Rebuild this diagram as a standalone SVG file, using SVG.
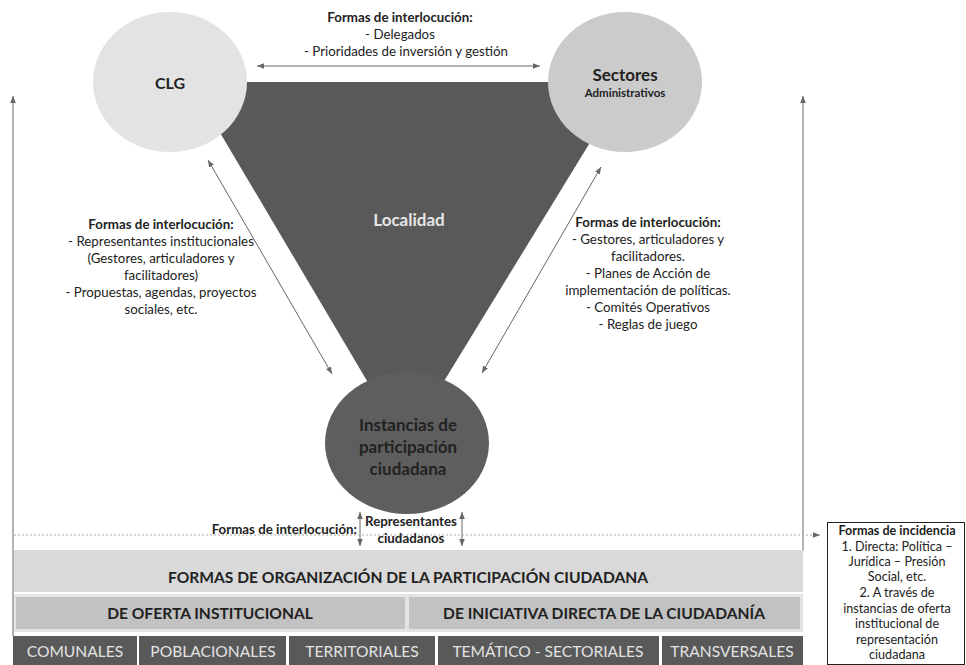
<svg xmlns="http://www.w3.org/2000/svg" width="966" height="665" viewBox="0 0 966 665">
<style>
text{font-family:Lato,"Open Sans","Liberation Sans",sans-serif;fill:#222;text-anchor:middle}
.b{font-weight:bold}
.s{font-size:13.3px}
.ln{stroke:#666;stroke-width:1;fill:none}
.cap{font-size:15.6px}
.dk{fill:#e2e2e2}
.r{font-size:12.6px}
</style>
<defs>
<marker id="ah" markerWidth="8" markerHeight="8" refX="7" refY="4" orient="auto-start-reverse" markerUnits="userSpaceOnUse">
<path d="M0,1.2 L7,4 L0,6.8 z" fill="#666"/>
</marker>
</defs>
<rect width="966" height="665" fill="#fff"/>
<g id="localidad">
<polygon points="190,82 627,82 405,445" fill="#595959"/>
<text x="409" y="226" class="b" style="font-size:17px;fill:#e6e6e6">Localidad</text>
</g>
<g id="clg">
<ellipse cx="170" cy="82" rx="77" ry="70" fill="#e3e3e3"/>
<text x="170" y="89" class="b" style="font-size:16px">CLG</text>
</g>
<g id="sectores">
<ellipse cx="625" cy="82" rx="77" ry="70" fill="#cbcbcb"/>
<text x="625" y="81" class="b" style="font-size:17px">Sectores</text>
<text x="625" y="97" class="b" style="font-size:11.5px">Administrativos</text>
</g>
<g id="instancias">
<ellipse cx="407" cy="443" rx="82" ry="71" fill="#5e5e5e"/>
<text x="408" y="431" class="b" style="font-size:17px">Instancias de</text>
<text x="408" y="453" class="b" style="font-size:17px">participación</text>
<text x="408" y="475" class="b" style="font-size:17px">ciudadana</text>
</g>
<g id="connectors">
<line x1="257" y1="66" x2="540" y2="66" class="ln" marker-start="url(#ah)" marker-end="url(#ah)"/>
<line x1="208" y1="160" x2="332" y2="374" class="ln" marker-start="url(#ah)" marker-end="url(#ah)"/>
<line x1="601" y1="167" x2="482" y2="373" class="ln" marker-start="url(#ah)" marker-end="url(#ah)"/>
<line x1="13" y1="636" x2="13" y2="96" class="ln" marker-end="url(#ah)"/>
<line x1="803" y1="551" x2="803" y2="96" class="ln" marker-end="url(#ah)"/>
<line x1="360" y1="512" x2="360" y2="546" class="ln" marker-start="url(#ah)" marker-end="url(#ah)"/>
<line x1="462" y1="512" x2="462" y2="546" class="ln" marker-start="url(#ah)" marker-end="url(#ah)"/>
<line x1="14" y1="535" x2="820" y2="535" stroke="#aaa" stroke-width="1" stroke-dasharray="2,2" marker-end="url(#ah)"/>
</g>
<g id="label-top">
<text x="400" y="22" class="b s">Formas de interlocución:</text>
<text x="400" y="39" class="s">- Delegados</text>
<text x="406" y="56" class="s">- Prioridades de inversión y gestión</text>
</g>
<g id="label-left">
<text x="161" y="229" class="b s">Formas de interlocución:</text>
<text x="161" y="246" class="s">- Representantes institucionales</text>
<text x="161" y="263" class="s">(Gestores, articuladores y</text>
<text x="161" y="280" class="s">facilitadores)</text>
<text x="161" y="297" class="s">- Propuestas, agendas, proyectos</text>
<text x="161" y="314" class="s">sociales, etc.</text>
</g>
<g id="label-right">
<text x="648" y="227" class="b s">Formas de interlocución:</text>
<text x="648" y="244" class="s">- Gestores, articuladores y</text>
<text x="648" y="261" class="s">facilitadores.</text>
<text x="648" y="278" class="s">- Planes de Acción de</text>
<text x="648" y="295" class="s">implementación de políticas.</text>
<text x="648" y="312" class="s">- Comités Operativos</text>
<text x="648" y="329" class="s">- Reglas de juego</text>
</g>
<g id="label-bottom">
<text x="357" y="534" class="b s" style="text-anchor:end">Formas de interlocución:</text>
<text x="411" y="526" class="b s">Representantes</text>
<text x="411" y="543" class="b s">ciudadanos</text>
</g>
<g id="formas-organizacion">
<rect x="14" y="550" width="789" height="42" fill="#d9d9d9"/>
<rect x="14" y="594" width="789" height="38" fill="#e4e4e4"/>
<text x="408" y="583" class="b cap">FORMAS DE ORGANIZACIÓN DE LA PARTICIPACIÓN CIUDADANA</text>
</g>
<g id="oferta">
<rect x="16" y="597" width="389" height="32" fill="#c2c2c2"/>
<text x="210" y="619" class="b cap">DE OFERTA INSTITUCIONAL</text>
</g>
<g id="iniciativa">
<rect x="409" y="597" width="391" height="32" fill="#c2c2c2"/>
<text x="604" y="619" class="b cap">DE INICIATIVA DIRECTA DE LA CIUDADANÍA</text>
</g>
<g id="comunales"><rect x="13" y="636" width="124" height="29" fill="#595959"/><text x="75" y="657" class="cap dk">COMUNALES</text></g>
<g id="poblacionales"><rect x="139" y="636" width="147" height="29" fill="#595959"/><text x="213" y="657" class="cap dk">POBLACIONALES</text></g>
<g id="territoriales"><rect x="289" y="636" width="146" height="29" fill="#595959"/><text x="362" y="657" class="cap dk">TERRITORIALES</text></g>
<g id="tematico"><rect x="438" y="636" width="221" height="29" fill="#595959"/><text x="548" y="657" class="cap dk">TEMÁTICO - SECTORIALES</text></g>
<g id="transversales"><rect x="662" y="636" width="141" height="29" fill="#595959"/><text x="732" y="657" class="cap dk">TRANSVERSALES</text></g>
<g id="incidencia">
<rect x="827.5" y="522.5" width="137" height="142" fill="#fff" stroke="#222" stroke-width="1"/>
<text x="897" y="535" class="b r">Formas de incidencia</text>
<text x="897" y="551" class="r">1. Directa: Política –</text>
<text x="897" y="566" class="r">Jurídica – Presión</text>
<text x="897" y="581" class="r">Social, etc.</text>
<text x="897" y="597" class="r">2. A través de</text>
<text x="897" y="613" class="r">instancias de oferta</text>
<text x="897" y="628" class="r">institucional de</text>
<text x="897" y="644" class="r">representación</text>
<text x="897" y="659" class="r">ciudadana</text>
</g>
</svg>
